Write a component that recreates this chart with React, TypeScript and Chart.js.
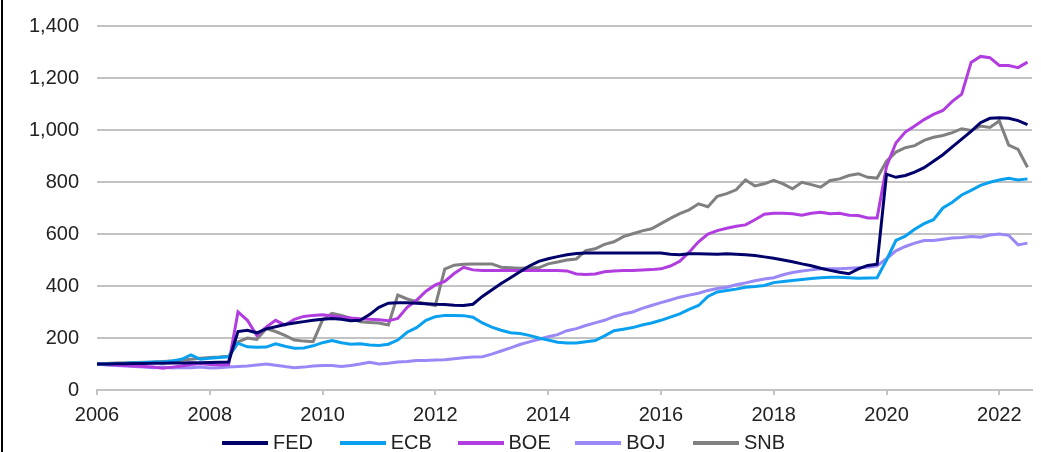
import React, { useEffect, useRef } from "react";
import { Chart, registerables } from "chart.js";

Chart.register(...registerables);

// Bi-monthly observation dates (index level, start = 100)
const PERIODS = [
  "2006-01","2006-03","2006-05","2006-07","2006-09","2006-11",
  "2007-01","2007-03","2007-05","2007-07","2007-09","2007-11",
  "2008-01","2008-03","2008-05","2008-07","2008-09","2008-11",
  "2009-01","2009-03","2009-05","2009-07","2009-09","2009-11",
  "2010-01","2010-03","2010-05","2010-07","2010-09","2010-11",
  "2011-01","2011-03","2011-05","2011-07","2011-09","2011-11",
  "2012-01","2012-03","2012-05","2012-07","2012-09","2012-11",
  "2013-01","2013-03","2013-05","2013-07","2013-09","2013-11",
  "2014-01","2014-03","2014-05","2014-07","2014-09","2014-11",
  "2015-01","2015-03","2015-05","2015-07","2015-09","2015-11",
  "2016-01","2016-03","2016-05","2016-07","2016-09","2016-11",
  "2017-01","2017-03","2017-05","2017-07","2017-09","2017-11",
  "2018-01","2018-03","2018-05","2018-07","2018-09","2018-11",
  "2019-01","2019-03","2019-05","2019-07","2019-09","2019-11",
  "2020-01","2020-03","2020-05","2020-07","2020-09","2020-11",
  "2021-01","2021-03","2021-05","2021-07","2021-09","2021-11",
  "2022-01","2022-03","2022-05","2022-07",
];

const FED = [
  100,100,101,101,102,102,103,103,104,104,105,105,106,107,108,
  225,230,220,235,243,252,258,263,268,272,
  275,272,266,268,290,318,334,336,336,334,
  332,330,329,326,325,330,360,385,410,432,
  455,477,495,505,513,520,525,527,527,527,
  527,527,527,527,527,527,522,520,524,524,
  523,522,524,522,520,517,512,507,500,493,
  485,478,468,460,453,447,466,479,484,830,
  818,825,838,855,880,905,935,965,995,1028,
  1045,1047,1045,1036,1021,
];

const ECB = [
  100,100,102,103,105,106,108,108,112,118,135,118,122,125,128,
  180,166,164,165,178,168,161,162,170,182,
  190,182,176,178,173,171,176,192,222,240,
  268,282,287,287,286,280,258,242,230,220,
  217,210,200,192,184,181,181,186,190,208,
  228,234,240,250,258,268,280,293,310,325,
  360,377,383,388,395,398,402,413,417,421,
  425,429,432,434,434,432,430,431,432,500,
  575,592,618,640,655,700,722,750,768,787,
  799,808,814,808,812,
];

const BOE = [
  100,98,96,94,92,90,88,84,88,92,98,102,98,96,98,
  300,268,210,242,268,250,272,283,287,289,
  285,281,277,274,272,270,266,275,318,345,
  380,404,418,448,472,462,460,460,460,460,
  460,460,460,460,460,458,446,444,446,455,
  458,460,460,462,463,466,477,495,530,570,
  600,613,622,630,635,655,676,680,680,678,
  672,680,684,678,680,672,671,662,662,860,
  950,992,1015,1040,1060,1075,1110,1138,1260,1283,
  1278,1248,1248,1240,1261,
];

const BOJ = [
  100,96,94,92,90,88,86,88,85,87,86,88,85,86,88,
  90,92,96,100,95,90,86,88,92,94,
  94,90,94,100,107,100,103,108,110,113,
  113,115,116,120,124,127,128,138,150,162,
  175,185,195,205,213,228,236,248,258,268,
  282,292,300,314,325,336,346,357,365,372,
  383,390,395,405,412,420,427,432,443,452,
  458,462,466,466,466,468,470,472,478,505,
  535,552,565,575,575,580,585,587,590,588,
  596,600,595,558,565,
];

const SNB = [
  100,102,104,105,106,107,108,110,112,114,118,122,125,127,130,
  185,200,195,236,225,210,192,188,186,270,
  295,287,276,262,260,258,250,365,350,340,
  332,325,465,480,484,485,485,485,472,470,
  468,470,470,485,492,500,504,536,543,560,
  570,590,601,612,620,640,660,678,693,716,
  705,745,755,770,808,785,793,806,793,774,
  799,790,780,806,812,825,832,818,815,880,
  915,932,940,960,972,979,990,1005,998,1015,
  1010,1035,942,925,857,
];

const SERIES_NAMES = ["FED", "ECB", "BOE", "BOJ", "SNB"];
const SERIES_VALUES = [FED, ECB, BOE, BOJ, SNB];
const SERIES_COLORS = ["#00006b", "#0aa0f0", "#b13de0", "#9a88f7", "#808080"];

const X_TICK_LABELS = ["2006", "2008", "2010", "2012", "2014", "2016", "2018", "2020", "2022"];
const Y_TICK_LABELS = ["0", "200", "400", "600", "800", "1,000", "1,200", "1,400"];

const FONT = "'Liberation Sans', Arial, sans-serif";
const TEXT_COLOR = "#222222";
const GRID_COLOR = "#c3c3c3";

function periodToYear(p: string): number {
  const [y, m] = p.split("-").map(Number);
  return y + (m - 1) / 12;
}

export default function App() {
  const canvasRef = useRef<HTMLCanvasElement | null>(null);

  useEffect(() => {
    const canvas = canvasRef.current;
    if (!canvas) return;
    const xs = PERIODS.map(periodToYear);
    const chart = new Chart(canvas, {
      type: "line",
      data: {
        datasets: SERIES_NAMES.map((name, i) => ({
          label: name,
          data: SERIES_VALUES[i].map((v, j) => ({ x: xs[j], y: v })),
          borderColor: SERIES_COLORS[i],
          backgroundColor: SERIES_COLORS[i],
          borderWidth: 3,
          pointRadius: 0,
          tension: 0,
          fill: false,
        })),
      },
      options: {
        animation: false,
        responsive: false,
        maintainAspectRatio: false,
        events: [],
        layout: { padding: { left: 0, right: 9, top: 26, bottom: 0 } },
        plugins: {
          legend: { display: false },
          tooltip: { enabled: false },
        },
        scales: {
          x: {
            type: "linear",
            min: 2006,
            max: 2022.58,
            afterFit: (s: any) => {
              s.height = 62;
            },
            grid: {
              drawOnChartArea: false,
              drawTicks: true,
              tickLength: 5,
              color: GRID_COLOR,
              lineWidth: 2,
            },
            border: { display: true, color: GRID_COLOR, width: 2 },
            ticks: {
              stepSize: 2,
              includeBounds: false,
              autoSkip: false,
              maxRotation: 0,
              padding: 8,
              color: TEXT_COLOR,
              font: { family: FONT, size: 20 },
              callback: (v: any) => {
                const s = String(Math.round(Number(v)));
                return X_TICK_LABELS.includes(s) ? s : "";
              },
            },
          },
          y: {
            min: 0,
            max: 1400,
            afterFit: (s: any) => {
              s.width = 97;
              s.paddingTop = 0;
              s.paddingBottom = 0;
            },
            grid: { drawTicks: false, color: GRID_COLOR, lineWidth: 2 },
            border: { display: false },
            ticks: {
              stepSize: 200,
              padding: 18,
              color: TEXT_COLOR,
              font: { family: FONT, size: 20 },
              callback: (v: any) => Y_TICK_LABELS[Math.round(Number(v) / 200)] ?? "",
            },
          },
        },
      },
    } as any);
    return () => chart.destroy();
  }, []);

  return (
    <div style={{ position: "absolute", left: 0, top: 0, width: 1041, height: 452, background: "#fff", overflow: "hidden" }}>
      <canvas ref={canvasRef} width={1041} height={452} style={{ display: "block", width: 1041, height: 452 }} />
      <div style={{ position: "absolute", left: 1, top: 0, width: 2, height: 452, background: "#000" }} />
      <div
        style={{
          position: "absolute",
          left: 222,
          top: 431,
          display: "flex",
          alignItems: "center",
          fontFamily: FONT,
          fontSize: 20,
          lineHeight: "23px",
          color: TEXT_COLOR,
        }}
      >
        {SERIES_NAMES.map((name, i) => (
          <div key={name} style={{ display: "flex", alignItems: "center", width: 117.75 }}>
            <div style={{ width: 46, height: 4, background: SERIES_COLORS[i], marginRight: 5 }} />
            <span>{name}</span>
          </div>
        ))}
      </div>
    </div>
  );
}
